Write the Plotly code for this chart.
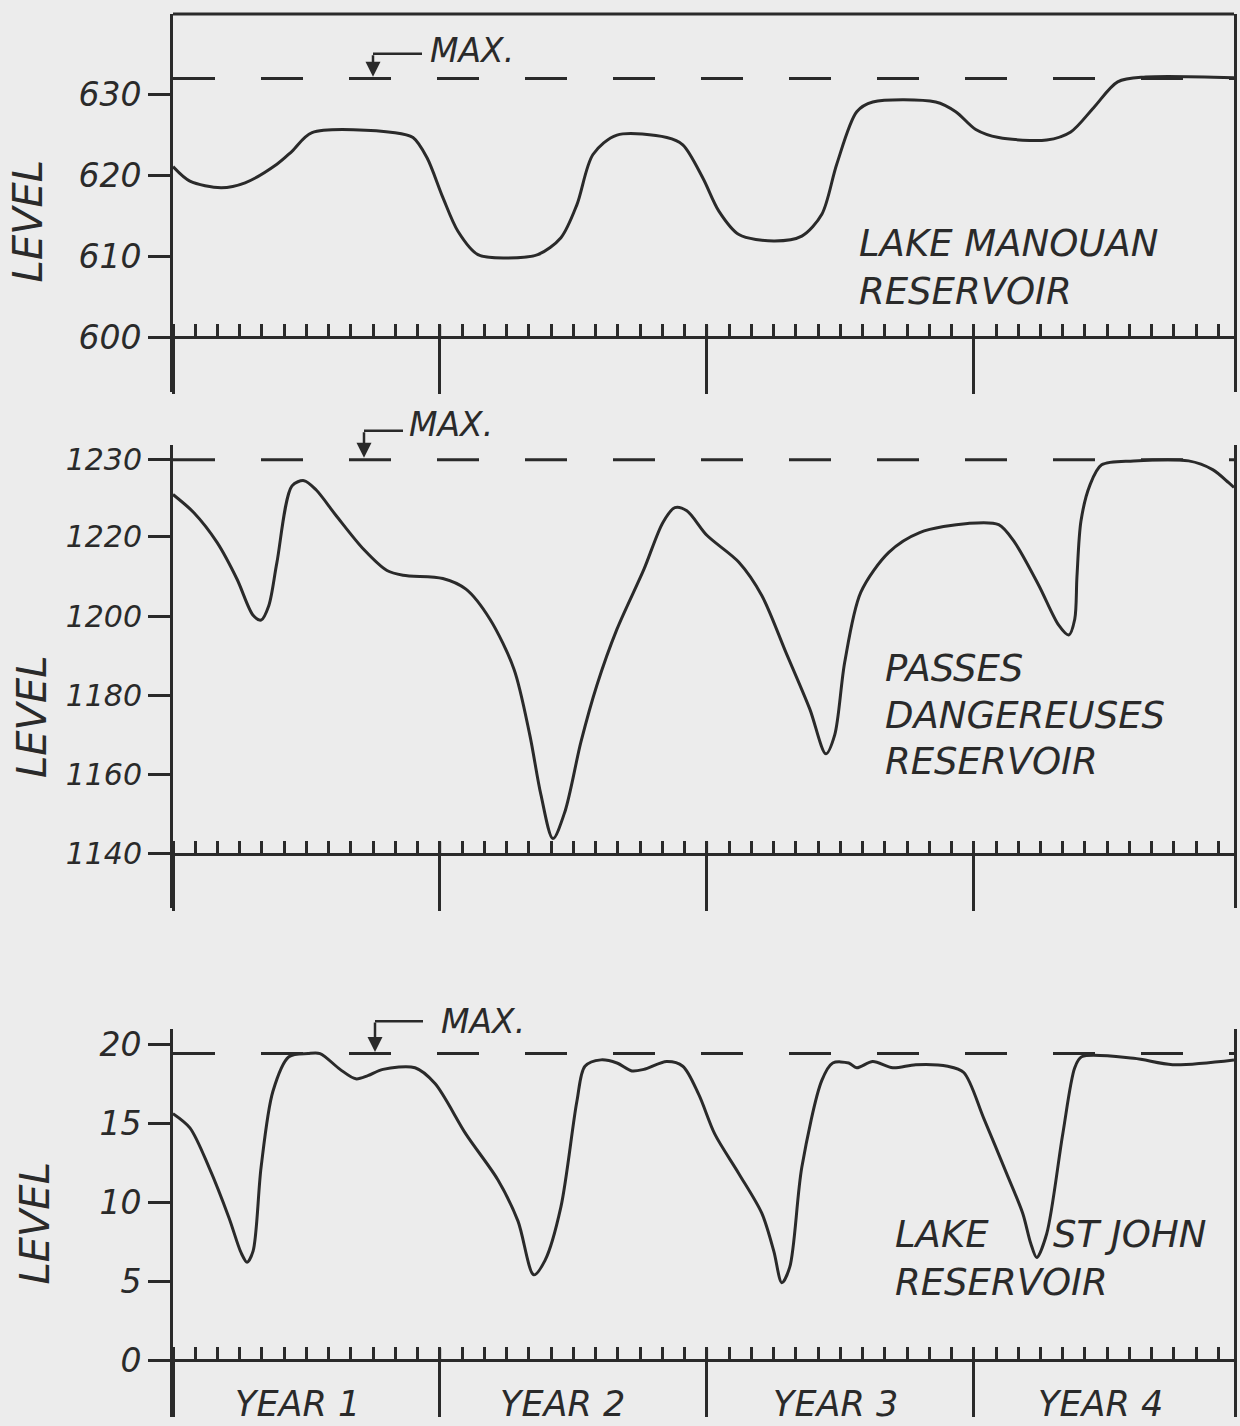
import plotly.graph_objects as go

# ---------------- data ----------------
months_manouan = [0.0, 0.76, 2.16, 3.24, 4.67, 5.35, 6.25, 9.98, 10.79, 11.42, 12.13, 12.81,
                  13.71, 14.97, 16.40, 17.44, 18.16, 18.88, 19.96, 22.20, 22.92, 23.82, 24.54,
                  25.44, 27.01, 28.27, 29.17, 29.84, 30.74, 31.46, 34.29, 35.19, 36.09, 37.12,
                  39.28, 40.36, 41.39, 42.47, 43.73, 47.7]
level_manouan = [621.1, 619.3, 618.5, 619.1, 621.4, 623.0, 625.3, 625.3, 624.7, 622.2, 617.3, 613.1,
                 610.2, 609.8, 610.2, 612.3, 616.4, 622.6, 625.0, 624.7, 623.8, 619.7, 615.6,
                 612.7, 611.9, 612.5, 615.2, 621.4, 627.9, 629.1, 629.1, 627.9, 625.7, 624.7,
                 624.4, 625.4, 628.4, 631.6, 632.2, 632.1]

months_passes = [0.0, 0.94, 1.98, 2.88, 3.60, 3.96, 4.31, 4.67, 5.35, 5.89, 6.43, 7.33, 8.58,
                 9.62, 10.34, 12.13, 13.17, 14.25, 15.33, 16.04, 16.54, 17.08, 17.62, 18.34,
                 19.06, 19.96, 21.17, 22.02, 22.56, 23.10, 24.00, 25.44, 26.47, 27.55, 28.63,
                 29.35, 29.75, 30.20, 30.92, 32.18, 33.57, 35.73, 37.12, 37.84, 38.92, 39.82,
                 40.27, 40.54, 40.64, 40.82, 41.21, 41.75, 43.19, 45.66, 46.74, 47.46, 47.7]
level_passes = [1230.7, 1226.1, 1218.6, 1209.3, 1200.2, 1199.0, 1202.7, 1213.5, 1232.9, 1234.2,
                1231.9, 1225.4, 1216.8, 1211.5, 1210.3, 1209.5, 1206.8, 1199.2, 1186.6, 1170.0,
                1154.9, 1143.8, 1150.6, 1168.2, 1182.6, 1196.7, 1211.8, 1223.6, 1227.4, 1226.6,
                1220.4, 1213.6, 1205.2, 1190.9, 1176.5, 1165.2, 1170.0, 1188.4, 1206.0, 1216.1,
                1221.1, 1223.4, 1223.1, 1218.6, 1207.8, 1197.7, 1195.2, 1199.2, 1210.0, 1224.0,
                1232.9, 1238.2, 1239.2, 1239.2, 1237.0, 1233.7, 1232.5]

months_stjohn = [0.0, 0.76, 1.62, 2.52, 3.06, 3.33, 3.60, 3.96, 4.49, 5.21, 6.07, 6.61, 7.51,
                 8.22, 8.76, 9.44, 10.88, 11.78, 13.17, 14.61, 15.51, 16.22, 16.72, 17.44, 18.16,
                 18.52, 19.24, 19.96, 20.63, 21.17, 22.20, 22.92, 23.64, 24.36, 25.44, 26.47,
                 27.01, 27.37, 27.73, 28.27, 29.17, 29.66, 30.38, 30.74, 31.46, 32.36, 33.39,
                 34.83, 35.55, 36.45, 37.48, 38.20, 38.56, 38.83, 39.28, 40.00, 40.54, 40.85,
                 43.19, 44.94, 47.7]
level_stjohn = [15.6, 14.7, 12.2, 9.0, 6.8, 6.2, 6.9, 12.2, 17.0, 19.2, 19.4, 19.4, 18.4,
                17.8, 18.0, 18.4, 18.5, 17.5, 14.3, 11.4, 8.8, 5.4, 6.3, 9.7, 16.4,
                18.6, 19.0, 18.8, 18.3, 18.4, 18.9, 18.6, 16.8, 14.3, 11.8, 9.3,
                6.9, 4.9, 5.9, 12.2, 17.7, 18.8, 18.8, 18.5, 18.9, 18.5, 18.7,
                18.6, 18.2, 15.3, 11.8, 9.3, 7.4, 6.5, 8.0, 14.3, 18.5, 19.2,
                19.1, 18.7, 19.0]

max_manouan = 632.0
max_passes = 1239.5
max_stjohn = 19.4

tickvals_manouan = [600, 610, 620, 630]
ticktext_manouan = ["600", "610", "620", "630"]
tickvals_passes = [1140, 1160, 1180, 1200, 1220, 1239.5]
ticktext_passes = ["1140", "1160", "1180", "1200", "1220", "1230"]
tickvals_stjohn = [0, 5, 10, 15, 20]
ticktext_stjohn = ["0", "5", "10", "15", "20"]

year_labels = ["YEAR 1", "YEAR 2", "YEAR 3", "YEAR 4"]
year_label_month = [5.6, 17.5, 29.8, 41.7]
year_boundaries = [12, 24, 36]
x_end = 47.7

# ---------------- layout helpers ----------------
W, H = 1240, 1426
INK = "#2a2a2a"
BG = "#ececec"
FONT = "DejaVu Sans"


def px_x(p):
    return p / W


def px_y(p):
    return 1 - p / H


X0, X1 = 173, 1234

# panel geometry: (top px, baseline px, bottom px, baseline value, px per unit, tick font)
panels = [
    dict(top=10, base=334, bot=389, b=600, s=8.1, fs=33),
    dict(top=442, base=852, bot=907, b=1140, s=3.97, fs=30),
    dict(top=1028, base=1360, bot=1417, b=0, s=15.85, fs=33),
]
series = [
    (months_manouan, level_manouan, max_manouan, tickvals_manouan, ticktext_manouan),
    (months_passes, level_passes, max_passes, tickvals_passes, ticktext_passes),
    (months_stjohn, level_stjohn, max_stjohn, tickvals_stjohn, ticktext_stjohn),
]

fig = go.Figure()
layout = dict(
    width=W, height=H,
    margin=dict(l=0, r=0, t=0, b=0),
    paper_bgcolor=BG, plot_bgcolor=BG,
    showlegend=False,
    font=dict(family=FONT, color=INK, size=34, style="italic"),
)
shapes = []
annotations = []

for i, (pan, (mx, lv, mxl, tv, tt)) in enumerate(zip(panels, series)):
    n = "" if i == 0 else str(i + 1)
    xa, ya = "x" + n, "y" + n
    fig.add_trace(go.Scatter(x=mx, y=lv, mode="lines", xaxis=xa, yaxis=ya,
                             line=dict(color=INK, width=3, shape="spline", smoothing=0.85),
                             hoverinfo="skip"))
    fig.add_trace(go.Scatter(x=[0, x_end], y=[mxl, mxl], mode="lines", xaxis=xa, yaxis=ya,
                             line=dict(color=INK, width=3, dash="42px,46px"),
                             hoverinfo="skip"))
    yr = [pan["b"] - (pan["bot"] - pan["base"]) / pan["s"],
          pan["b"] + (pan["base"] - pan["top"]) / pan["s"]]
    layout["xaxis" + n] = dict(
        domain=[px_x(X0), px_x(X1)], range=[0, x_end], anchor="free",
        position=px_y(pan["base"]), showgrid=False, zeroline=False,
        showline=True, linecolor=INK, linewidth=3,
        tickmode="linear", tick0=0, dtick=12, ticks="outside", ticklen=55,
        tickwidth=3, tickcolor=INK, showticklabels=False,
        minor=dict(tickmode="linear", tick0=0, dtick=1, ticks="inside", ticklen=12,
                   tickwidth=2.5, tickcolor=INK, showgrid=False),
    )
    layout["yaxis" + n] = dict(
        domain=[px_y(pan["bot"]), px_y(pan["top"])], range=yr, anchor=xa,
        showgrid=False, zeroline=False, showline=True, linecolor=INK, linewidth=3,
        mirror=True, tickmode="array", tickvals=tv, ticktext=tt, ticks="outside",
        ticklen=22, tickwidth=3, tickcolor=INK,
        tickfont=dict(family=FONT, size=pan["fs"], color=INK, style="italic"),
    )
    # small upward ticks at the year boundaries
    for yb in year_boundaries:
        shapes.append(dict(type="line", xref=xa, yref="paper", x0=yb, x1=yb,
                           y0=px_y(pan["base"]), y1=px_y(pan["base"] - 12),
                           line=dict(color=INK, width=2.5)))

# top frame line of first panel
shapes.append(dict(type="line", xref="paper", yref="paper", x0=px_x(X0), x1=px_x(X1),
                   y0=px_y(10), y1=px_y(10), line=dict(color=INK, width=3)))

# MAX. labels with leaders
max_marks = [  # (text x, text y, leader x, leader y, leader end x, tip y)
    (428, 47, 373, 50, 422, 73),
    (407, 422, 364, 428, 403, 455),
    (439, 1020, 375, 1020, 423, 1051),
]
for tx, ty, lx, ly, lx2, tipy in max_marks:
    annotations.append(dict(text="MAX.", xref="paper", yref="paper", x=px_x(tx), y=px_y(ty),
                            xanchor="left", yanchor="middle", showarrow=False,
                            font=dict(size=33, family=FONT, color=INK, style="italic")))
    shapes.append(dict(type="line", xref="paper", yref="paper", x0=px_x(lx), x1=px_x(lx2),
                       y0=px_y(ly), y1=px_y(ly), line=dict(color=INK, width=2.5)))
    annotations.append(dict(text="", xref="paper", yref="paper", x=px_x(lx), y=px_y(tipy),
                            ax=0, ay=-(tipy - ly), showarrow=True, arrowhead=2,
                            arrowsize=1.2, arrowwidth=2.5, arrowcolor=INK, standoff=0))

# LEVEL axis titles
for cx, cy in [(28, 218), (32, 715), (35, 1223)]:
    annotations.append(dict(text="LEVEL", xref="paper", yref="paper", x=px_x(cx), y=px_y(cy),
                            xanchor="center", yanchor="middle", textangle=-90, showarrow=False,
                            font=dict(size=40, family=FONT, color=INK, style="italic")))

# reservoir names
names = [
    ("LAKE MANOUAN", 857, 240), ("RESERVOIR", 857, 288),
    ("PASSES", 883, 666), ("DANGEREUSES", 883, 713), ("RESERVOIR", 883, 760),
    ("LAKE", 893, 1234), ("ST JOHN", 1051, 1234), ("RESERVOIR", 893, 1282),
]
for txt, lx, ly in names:
    annotations.append(dict(text=txt, xref="paper", yref="paper", x=px_x(lx), y=px_y(ly),
                            xanchor="left", yanchor="middle", showarrow=False,
                            font=dict(size=37, family=FONT, color=INK, style="italic")))

# year labels under the bottom panel
for lab, m in zip(year_labels, year_label_month):
    annotations.append(dict(text=lab, xref="x3", yref="paper", x=m, y=px_y(1404),
                            xanchor="center", yanchor="middle", showarrow=False,
                            font=dict(size=35, family=FONT, color=INK, style="italic")))

layout["shapes"] = shapes
layout["annotations"] = annotations
fig.update_layout(**layout)

fig.write_html("out.html", config={"displayModeBar": False},
               post_script="document.body.style.margin='0';document.body.style.background='%s';" % BG)
